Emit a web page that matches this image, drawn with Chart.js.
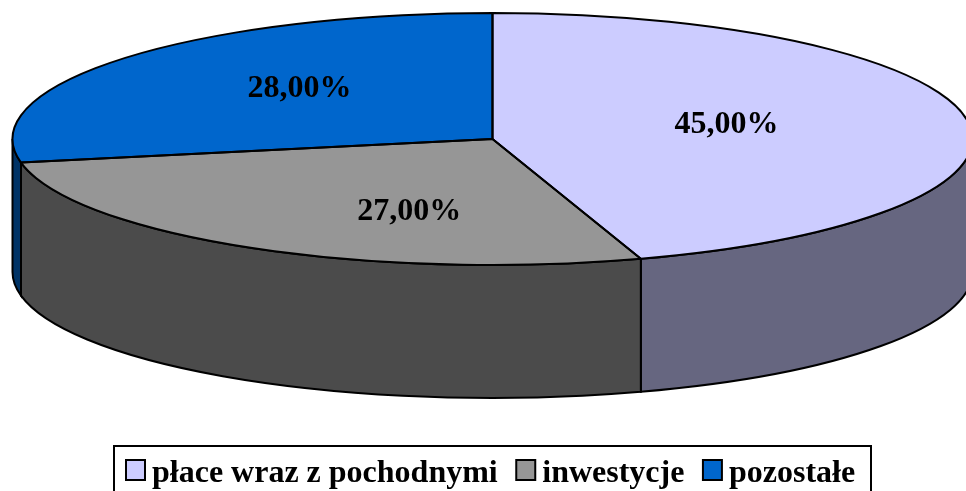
<!DOCTYPE html>
<html>
<head>
<meta charset="utf-8">
<style>
    html, body { margin: 0; padding: 0; background: #fff; overflow: hidden; }
    #wrap { position: relative; width: 966px; height: 491px; }
</style>
<script src="https://cdn.jsdelivr.net/npm/chart.js@4/dist/chart.umd.min.js"></script>
</head>
<body>
<div id="wrap"><canvas id="chart"></canvas></div>
<script>
var categories = ["płace wraz z pochodnymi", "inwestycje", "pozostałe"];
var shares = [45, 27, 28];
var shareLabels = ["45,00%", "27,00%", "28,00%"];

var topColors = ["#CCCCFF", "#969696", "#0066CC"];
var wallColors = ["#666680", "#4B4B4B", "#003366"];

// the pie is a flat circle squashed by tilt, with a wall of wallDepth under it
var tilt = 0.2625;
var wallDepth = 133;
var labelOffsets = [[-3, -4], [39, 19], [-8, -10]];
var fontFamily = "'Liberation Serif', serif";

var pie3d = {
    id: "pie3d",
    beforeDatasetDraw: function (chart) {
        var ctx = chart.ctx;
        var arcs = chart.getDatasetMeta(0).data;
        ctx.save();
        ctx.lineWidth = 2;
        ctx.strokeStyle = "#000";
        arcs.forEach(function (arc, i) {
            // only the front half of the rim is visible
            var from = Math.max(arc.startAngle, 0);
            var to = Math.min(arc.endAngle, Math.PI);
            if (to <= from) return;
            var ry = arc.outerRadius * tilt;
            ctx.beginPath();
            ctx.ellipse(arc.x, arc.y, arc.outerRadius, ry, 0, from, to);
            ctx.ellipse(arc.x, arc.y + wallDepth, arc.outerRadius, ry, 0, to, from, true);
            ctx.closePath();
            ctx.fillStyle = wallColors[i];
            ctx.fill();
            ctx.stroke();
        });
        ctx.restore();

        var cy = arcs[0].y;
        ctx.save();
        ctx.translate(0, cy);
        ctx.scale(1, tilt);
        ctx.translate(0, -cy);
    },
    afterDatasetDraw: function (chart) {
        var ctx = chart.ctx;
        ctx.restore();

        var arcs = chart.getDatasetMeta(0).data;
        ctx.save();
        ctx.lineWidth = 2;
        ctx.strokeStyle = "#000";
        ctx.lineJoin = "round";
        arcs.forEach(function (arc) {
            ctx.beginPath();
            ctx.moveTo(arc.x, arc.y);
            ctx.ellipse(arc.x, arc.y, arc.outerRadius, arc.outerRadius * tilt, 0, arc.startAngle, arc.endAngle);
            ctx.closePath();
            ctx.stroke();
        });

        ctx.fillStyle = "#000";
        ctx.font = "bold 32px " + fontFamily;
        ctx.textAlign = "center";
        ctx.textBaseline = "middle";
        arcs.forEach(function (arc, i) {
            var mid = arc.getCenterPoint();
            var y = arc.y + (mid.y - arc.y) * tilt;
            ctx.fillText(shareLabels[i], mid.x + labelOffsets[i][0], y + labelOffsets[i][1]);
        });
        ctx.restore();
    }
};

var boxedLegend = {
    id: "boxedLegend",
    afterDraw: function (chart) {
        var ctx = chart.ctx;
        var x = 125;
        ctx.save();
        ctx.lineWidth = 2;
        ctx.strokeStyle = "#000";
        ctx.strokeRect(114, 446, 757, 60);
        ctx.font = "bold 32px " + fontFamily;
        ctx.textBaseline = "alphabetic";
        categories.forEach(function (name, i) {
            ctx.fillStyle = topColors[i];
            ctx.fillRect(x + 1, 460, 19, 20);
            ctx.strokeRect(x + 1, 460, 19, 20);
            ctx.fillStyle = "#000";
            ctx.fillText(name, x + 27, 482);
            x += 27 + ctx.measureText(name).width + 17.5;
        });
        ctx.restore();
    }
};

new Chart(document.getElementById("chart"), {
    type: "pie",
    data: {
        labels: categories,
        datasets: [{
            data: shares,
            backgroundColor: topColors,
            borderWidth: 0,
            clip: false
        }]
    },
    options: {
        responsive: true,
        maintainAspectRatio: false,
        animation: false,
        radius: 480,
        layout: { padding: { left: 19, bottom: 213 } },
        plugins: {
            legend: { display: false },
            tooltip: { enabled: false }
        }
    },
    plugins: [pie3d, boxedLegend]
});
</script>
</body>
</html>
